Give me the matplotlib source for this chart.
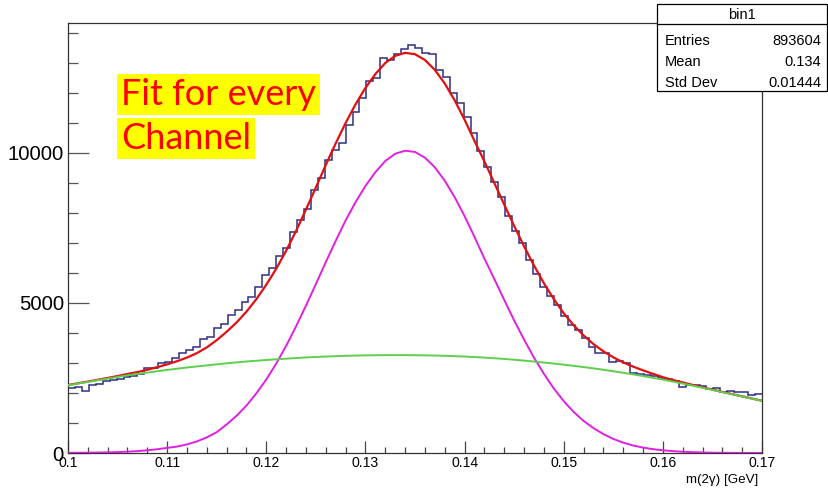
import numpy as np
import matplotlib
matplotlib.use("Agg")
import matplotlib.pyplot as plt
from matplotlib import font_manager
from matplotlib.patches import Rectangle
from matplotlib.ticker import MultipleLocator

# histogram "bin1": 100 bins from 0.1 to 0.17 GeV
bin_lo, bin_hi, n_bins = 0.1, 0.17, 100
counts = [
    2160, 2200, 2070, 2260, 2310, 2390, 2440, 2480, 2540, 2580,
    2620, 2820, 2840, 3010, 3030, 3170, 3320, 3420, 3540, 3800,
    3880, 4156, 4300, 4600, 4767, 5030, 5211, 5544, 5933, 6156,
    6567, 6822, 7356, 7767, 8122, 8767, 9150, 9750, 10100, 10322,
    10933, 11378, 11822, 12400, 12489, 13178, 13100, 13289, 13467, 13600,
    13489, 13322, 13300, 12770, 12540, 12000, 11680, 11200, 10656, 10078,
    9522, 9044, 8522, 7900, 7411, 7011, 6433, 5967, 5544, 5233,
    4933, 4567, 4267, 4100, 3822, 3544, 3344, 3322, 3044, 3067,
    2989, 2656, 2640, 2600, 2567, 2489, 2450, 2411, 2211, 2260,
    2267, 2222, 2122, 2156, 2044, 2050, 2022, 2020, 1933, 1967,
]

# fit curves, read every 0.001 GeV from 0.100 to 0.170
fit_x = [round(0.100 + 0.001 * k, 3) for k in range(71)]
fit_total = [
    2266, 2323, 2381, 2440, 2502, 2565, 2635, 2697, 2775, 2860,
    2955, 3060, 3180, 3330, 3520, 3760, 4040, 4350, 4710, 5130,
    5610, 6140, 6740, 7400, 8110, 8850, 9600, 10320, 11000, 11620,
    12170, 12630, 13000, 13238, 13339, 13293, 13100, 12771, 12317, 11755,
    11111, 10403, 9720, 9000, 8280, 7570, 6890, 6250, 5660, 5130,
    4660, 4260, 3920, 3630, 3390, 3190, 3020, 2880, 2755, 2640,
    2526, 2435, 2352, 2269, 2191, 2113, 2037, 1962, 1888, 1814,
    1741,
]
fit_signal = [
    6, 8, 11, 15, 22, 30, 45, 62, 90, 125,
    170, 215, 285, 386, 521, 693, 950, 1240, 1580, 1990,
    2450, 2980, 3570, 4220, 4910, 5630, 6360, 7070, 7750, 8360,
    8900, 9360, 9732, 9975, 10077, 10034, 9845, 9523, 9077, 8527,
    7896, 7205, 6481, 5800, 5100, 4420, 3780, 3180, 2640, 2150,
    1730, 1370, 1070, 830, 630, 470, 345, 250, 180, 128,
    90, 62, 42, 28, 18, 10, 7, 4, 3, 2,
    1,
]
fit_bkg = [
    2260, 2315, 2370, 2425, 2480, 2535, 2590, 2635, 2680, 2725,
    2770, 2810, 2850, 2885, 2920, 2955, 2990, 3020, 3050, 3075,
    3100, 3123, 3145, 3165, 3185, 3200, 3215, 3228, 3240, 3248,
    3255, 3259, 3262, 3263, 3262, 3259, 3255, 3248, 3240, 3228,
    3215, 3198, 3180, 3158, 3135, 3108, 3080, 3048, 3015, 2980,
    2945, 2905, 2865, 2820, 2775, 2725, 2675, 2620, 2565, 2505,
    2445, 2380, 2315, 2245, 2175, 2103, 2030, 1958, 1885, 1812,
    1740,
]

stats_name = "bin1"
stats_rows = [("Entries", "893604"), ("Mean", "0.134"), ("Std Dev", "0.01444")]

names = {f.name for f in font_manager.fontManager.ttflist}
root_font = "Liberation Sans Narrow" if "Liberation Sans Narrow" in names else "Liberation Sans"
narrow = root_font == "Liberation Sans Narrow"
fam = [root_font, "DejaVu Sans"]
sz = 1.0 if narrow else 0.84

W, H = 829, 490
fig = plt.figure(figsize=(W / 100, H / 100), dpi=100)
fig.patch.set_facecolor("white")


def fx(px):
    return px / W


def fy(py):
    return 1 - py / H


ax = fig.add_axes([fx(68), fy(453), fx(762) - fx(68), fy(23) - fy(453)])
ax.set_xlim(bin_lo, bin_hi)
ax.set_ylim(0, 14333)

edges = np.linspace(bin_lo, bin_hi, n_bins + 1)
ax.stairs(counts, edges, baseline=None, color="#2e2e86", lw=1.1, zorder=2)
ax.plot(fit_x, fit_total, color="#e01010", lw=1.6, zorder=3)
ax.plot(fit_x, fit_signal, color="#e020e0", lw=1.4, zorder=4)
ax.plot(fit_x, fit_bkg, color="#5ccf4c", lw=1.4, zorder=4)

for s in ax.spines.values():
    s.set_color("#333333")
    s.set_linewidth(0.9)

ax.xaxis.set_minor_locator(MultipleLocator(0.002))
ax.yaxis.set_minor_locator(MultipleLocator(1000))
ax.set_xticks(np.arange(0.1, 0.1701, 0.01))
ax.set_xticklabels(["0.1", "0.11", "0.12", "0.13", "0.14", "0.15", "0.16", "0.17"])
ax.set_yticks([0, 5000, 10000])
ax.set_yticklabels(["0", "5000", "10000"])

ax.tick_params(axis="x", which="major", direction="in", length=8.5, width=0.9,
               color="#444444", pad=2, labelsize=12 * sz)
ax.tick_params(axis="x", which="minor", direction="in", length=4.3, width=0.9,
               color="#444444")
ax.tick_params(axis="y", which="major", direction="in", length=15, width=0.9,
               color="#555555", pad=3, labelsize=17.5 * sz)
ax.tick_params(axis="y", which="minor", direction="in", length=7.5, width=0.9,
               color="#555555")
for lab in ax.get_xticklabels() + ax.get_yticklabels():
    lab.set_family(fam)

fig.text(fx(758), fy(480), "m(2\u03b3) [GeV]", ha="right", va="center",
         fontsize=11.5 * sz, family=fam)

# stats box
box = Rectangle((fx(657), fy(91)), fx(827) - fx(657), fy(4) - fy(91),
                transform=fig.transFigure, facecolor="white",
                edgecolor="black", lw=0.9, zorder=10)
fig.patches.append(box)
fig.add_artist(plt.Line2D([fx(657), fx(827)], [fy(24), fy(24)],
                          transform=fig.transFigure, color="black", lw=0.9,
                          zorder=11))
fig.text(fx(742), fy(15), stats_name, ha="center", va="center",
         fontsize=12.5 * sz, family=fam, zorder=12)
for k, (lab, val) in enumerate(stats_rows):
    yy = fy(41 + 21 * k)
    fig.text(fx(665), yy, lab, ha="left", va="center", fontsize=12.5 * sz,
             family=fam, zorder=12)
    fig.text(fx(821), yy, val, ha="right", va="center", fontsize=12.5 * sz,
             family=fam, zorder=12)

# highlighted note
for txt, ypix in [("Fit for every", 94.5), ("Channel", 138.5)]:
    fig.text(fx(121), fy(ypix), txt, ha="left", va="center", fontsize=26,
             family=["Lato", "DejaVu Sans"], color="#ff0000",
             bbox=dict(boxstyle="square,pad=0.11", facecolor="#ffff00",
                       edgecolor="none"))

fig.savefig("out.png", dpi=100)
